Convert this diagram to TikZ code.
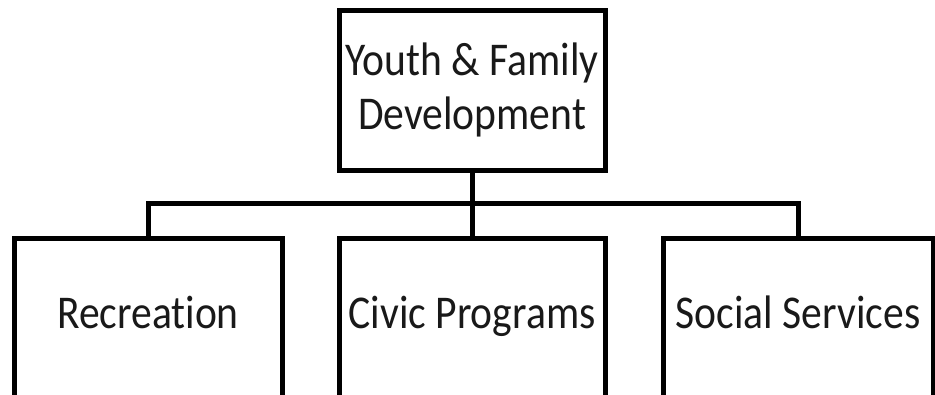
\documentclass[tikz,border=0pt]{standalone}
\usepackage{fontspec}
\setmainfont{Carlito}[FakeStretch=0.885, Ligatures=NoCommon]
\begin{document}
\begin{tikzpicture}[x=1pt, y=-1pt,
    orgbox/.style={draw, line width=5pt, inner sep=0pt, align=center,
        text=black!90, font=\fontsize{47}{54}\selectfont},
    subbox/.style={orgbox, minimum height=160pt, text height=30pt, text depth=10pt},
    link/.style={line width=5pt}]
    \useasboundingbox (0,0) rectangle (935,394);

    % Head unit (top)
    \node[orgbox, minimum width=266pt, minimum height=160pt] (ydev) at (472,90) {Youth \& Family\\Development};

    % Sub units (bottom row, cut off at the page edge)
    \node[subbox, minimum width=268pt] (rec) at (148,318) {Recreation};
    \node[subbox, minimum width=266pt] (civ) at (472,318) {Civic Programs};
    \node[subbox, minimum width=270pt] (soc) at (798,318) {Social Services};

    % Connectors
    \coordinate (fork) at (472,203);
    \draw[link] (ydev.south) -- (fork);
    \foreach \unit in {rec,civ,soc} {
        \draw[link] (fork) -| (\unit.north);
    }
\end{tikzpicture}
\end{document}
